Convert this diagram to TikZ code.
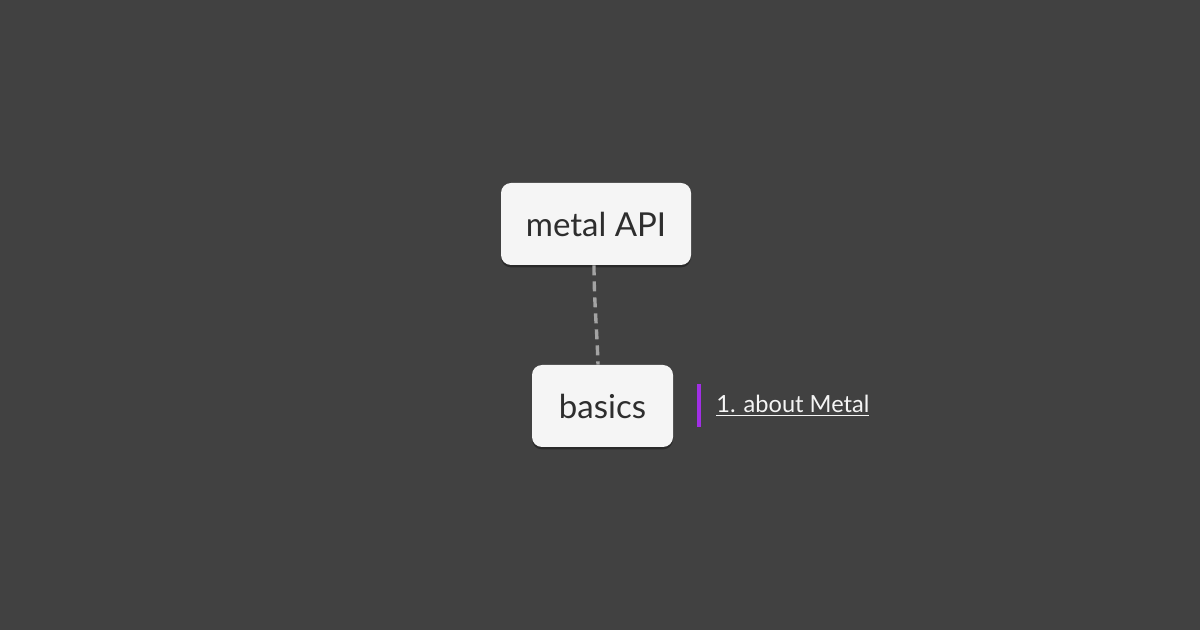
\documentclass[tikz,border=0pt]{standalone}
\usepackage{fontspec}
\setmainfont{Lato}
\usetikzlibrary{positioning,shadows}
\definecolor{bgcol}{HTML}{414141}
\definecolor{boxcol}{HTML}{F5F5F5}
\definecolor{inkcol}{HTML}{2E2E2E}
\definecolor{linkcol}{HTML}{A3A3A3}
\definecolor{barcol}{HTML}{A12FE5}

\begin{document}
\begin{tikzpicture}[x=0.5pt,y=-0.5pt,
    topic/.style={fill=boxcol,rounded corners=5pt,text=inkcol,
      minimum height=41pt,font=\fontsize{16.5}{19}\selectfont,
      drop shadow={shadow xshift=0pt,shadow yshift=-1.2pt,opacity=0.35,fill=black}},
    tie/.style={draw=linkcol,line width=1.7pt,dash pattern=on 5pt off 3pt},
    note/.style={text=boxcol,font=\fontsize{11.8}{14}\selectfont,anchor=west,inner sep=0pt}]

    \fill[bgcol] (0,0) rectangle (1200,630);
    \useasboundingbox (0,0) rectangle (1200,630);

    \node[topic,minimum width=95pt] (api)    at (596,224)   {metal API};
    \node[topic,minimum width=70.5pt] (basics) at (602.5,406) {basics};

    \draw[tie] (api.south) ++(-2,0) coordinate (a1)
        (a1) .. controls (594,300) and (597,330) .. (basics.north -| 598,0);

    \node[note] (about) at (716,406) {\underline{1. about Metal}};
    \coordinate (bartop) at (698.5,384);
    \coordinate (barbot) at (698.5,427);
    \draw[barcol,line width=2pt] (bartop) -- (barbot);
\end{tikzpicture}
\end{document}
